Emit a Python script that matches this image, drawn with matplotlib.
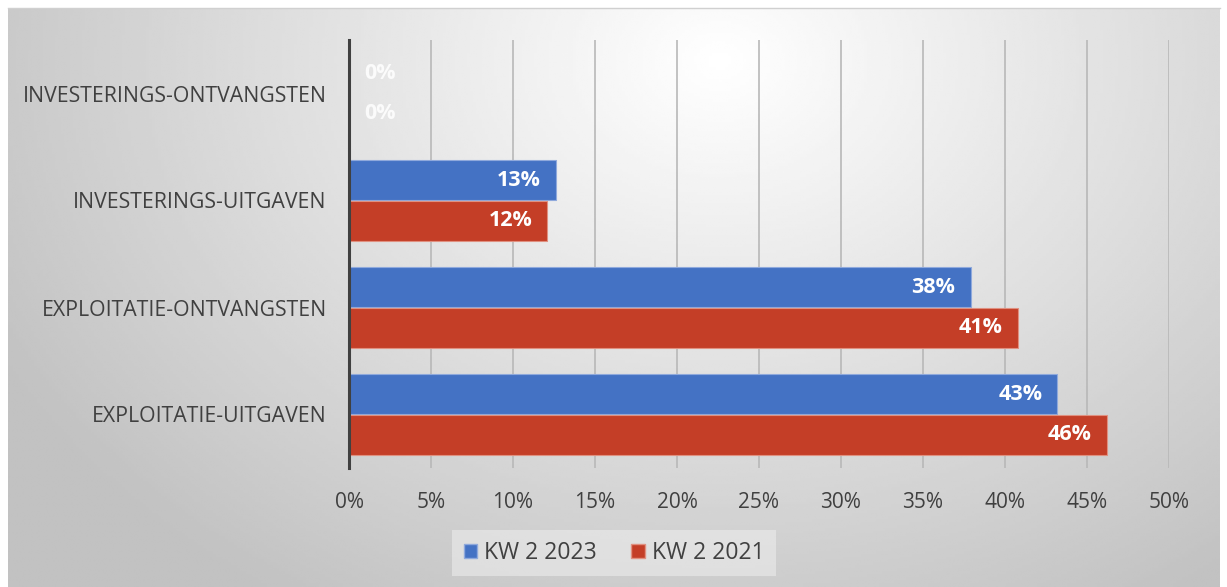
import numpy as np
import matplotlib.pyplot as plt
from matplotlib.patches import Patch

# data (percent)
categories = ['EXPLOITATIE-UITGAVEN', 'EXPLOITATIE-ONTVANGSTEN',
              'INVESTERINGS-UITGAVEN', 'INVESTERINGS-ONTVANGSTEN']
kw2023 = [43.2, 37.9, 12.6, 0.0]
kw2021 = [46.2, 40.8, 12.1, 0.0]
series_names = ['KW 2 2023', 'KW 2 2021']
xticks = [0, 5, 10, 15, 20, 25, 30, 35, 40, 45, 50]

blue = '#4472C4'
red = '#C43E27'
text_col = '#404040'

plt.rcParams['font.family'] = ['Open Sans', 'DejaVu Sans']

W, H = 1227, 587
fig = plt.figure(figsize=(W / 100, H / 100), dpi=100)
fig.patch.set_facecolor('white')

# radial grey background of the chart area
bg = fig.add_axes([8 / W, 0, (1220 - 8) / W, (H - 8) / H], zorder=0)
gx, gy = np.meshgrid(np.linspace(8, 1220, 400), np.linspace(8, H, 200))
d = np.sqrt(((gx - 720) / 820) ** 2 + ((gy - 60) / 640) ** 2)
shade = 1.0 - 0.24 * np.clip(d, 0, 1)
bg.imshow(shade, cmap='gray', vmin=0, vmax=1, aspect='auto',
          extent=[0, 1, 0, 1], interpolation='bilinear')
bg.axis('off')
fig.add_artist(plt.Line2D([8 / W, 1220 / W], [1 - 8 / H, 1 - 8 / H],
                          color='#d0d0d0', lw=1))

ax = fig.add_axes([349 / W, 1 - 468 / H, 820 / W, 428 / H], zorder=1)
ax.patch.set_alpha(0)

y = np.arange(len(categories))
h = 0.375
off = 0.19
b1 = ax.barh(y + off, kw2023, height=h, color=blue, edgecolor='#8fa9dc', lw=0.8, zorder=3)
b2 = ax.barh(y - off, kw2021, height=h, color=red, edgecolor='#e09080', lw=0.8, zorder=3)

for bars in (b1, b2):
    for rect in bars:
        v = rect.get_width()
        cy = rect.get_y() + rect.get_height() / 2
        if v > 0:
            ax.annotate(f'{v:.0f}%', (v, cy), xytext=(-11, 0), textcoords='offset points',
                        ha='right', va='center', color='white', fontsize=15.5,
                        fontweight='bold', zorder=4)
        else:
            ax.annotate('0%', (0, cy), xytext=(11, 0), textcoords='offset points',
                        ha='left', va='center', color='white', fontsize=15.5,
                        fontweight='bold', alpha=0.85, zorder=4)

ax.set_xlim(0, 50)
ax.set_ylim(-0.5, len(categories) - 0.5)
ax.set_xticks(xticks)
ax.set_xticklabels([f'{t}%' for t in xticks])
ax.set_yticks(y)
ax.set_yticklabels(categories)
ax.tick_params(axis='x', length=0, pad=17, labelsize=15, labelcolor=text_col)
ax.tick_params(axis='y', length=0, pad=16, labelsize=15.3, labelcolor=text_col)
ax.grid(axis='x', color='#b8b8b8', lw=1.2, zorder=0)
for s in ('top', 'right', 'bottom'):
    ax.spines[s].set_visible(False)
ax.spines['left'].set_color('#404040')
ax.spines['left'].set_linewidth(2.2)
ax.spines['left'].set_zorder(5)

handles = [Patch(facecolor=blue, edgecolor='#8fa9dc'), Patch(facecolor=red, edgecolor='#e09080')]
leg = fig.legend(handles, series_names, loc='center', bbox_to_anchor=(614 / W, 1 - 553 / H),
                 ncol=2, frameon=True, fontsize=16.5, handlelength=0.6, handleheight=0.6,
                 handletextpad=0.3, columnspacing=1.5, borderpad=0.5, fancybox=False)
leg.get_frame().set_facecolor('#ececec')
leg.get_frame().set_edgecolor('none')
leg.get_frame().set_alpha(0.6)
for t in leg.get_texts():
    t.set_color(text_col)

fig.savefig('out.png', dpi=100)
